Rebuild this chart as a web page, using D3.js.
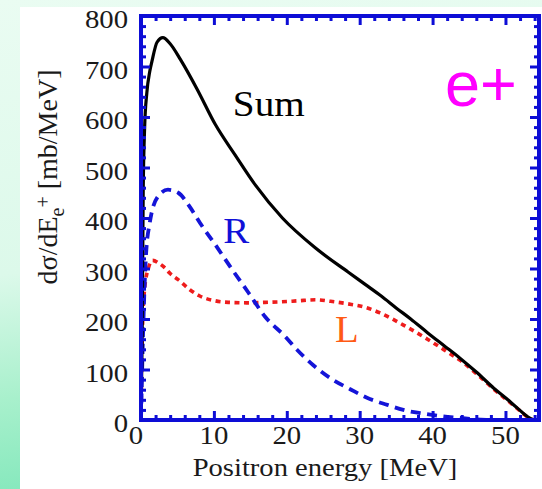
<!DOCTYPE html>
<html>
<head>
<meta charset="utf-8">
<script src="https://cdn.jsdelivr.net/npm/d3@7"></script>
<style>
  html, body { margin: 0; padding: 0; background: #fff; }
  svg { display: block; }
</style>
</head>
<body>
<svg id="chart" width="542" height="489"></svg>
<script>
// Positron energy spectrum: total and helicity components (E in MeV, dσ/dE in mb/MeV)
const sumCurve = [
  [0, 0], [0.15, 150], [0.3, 450], [0.5, 580], [0.8, 648], [1.2, 690], [1.5, 710],
  [2.2, 748], [3, 757], [4, 745], [5.4, 714], [7.7, 655], [10.2, 585], [12.9, 525],
  [15.7, 465], [19.4, 400], [23.9, 341], [28.4, 293], [30.8, 268], [33, 245],
  [35, 222], [37, 200], [39.3, 173], [41.5, 148], [43.8, 122], [46, 95],
  [48.4, 63], [50, 44], [51.6, 24], [53, 7], [53.8, 0]
];
const rCurve = [
  [0, 0], [0.3, 180], [0.7, 330], [1.2, 390], [2.3, 442], [3.7, 456], [5.1, 450],
  [6.7, 422], [8.1, 390], [10.2, 347], [12.5, 298], [14.7, 253], [17, 205],
  [19.8, 165], [21.4, 139], [23.6, 109], [26.4, 79], [28.7, 61], [31, 44],
  [33.8, 30], [36, 20], [38.6, 13], [41, 8], [43.8, 4], [46, 1], [48, 0]
];
const lCurve = [
  [0, 0], [0.2, 180], [0.5, 260], [1, 300], [1.6, 316], [2.5, 310], [3.3, 301],
  [4, 290], [5.1, 278], [6.7, 258], [8, 246], [10.2, 236], [12, 233], [14.7, 232],
  [17, 233], [19.2, 234], [21.5, 236], [23.9, 238], [26, 235], [28.4, 230],
  [30.8, 223], [32.8, 212], [36, 188], [39.3, 160], [42, 135], [43.8, 118],
  [46, 92], [48.4, 61], [50, 42], [51.6, 23], [53, 6], [53.8, 0]
];

const xMajor = [0, 10, 20, 30, 40, 50];
const yMajor = [0, 100, 200, 300, 400, 500, 600, 700, 800];
const xMinorStep = 2;
const yMinorStep = 20;

const xDomain = [0, 54.6];
const yDomain = [0, 800];

const curveLabels = [
  { text: "Sum", at: [12.6, 602], color: "#000000", size: 35, stretch: 1.12 },
  { text: "R",   at: [11.3, 350], color: "#1010d8", size: 36, stretch: 1.08 },
  { text: "L",   at: [26.6, 155], color: "#ff5a14", size: 37, stretch: 1.05 }
];

const svg = d3.select("#chart");
const W = 542, H = 489;

// Slide-style background: mint gradient with a white panel
const defs = svg.append("defs");
const bg = defs.append("linearGradient").attr("id", "bg")
  .attr("x1", 0).attr("y1", 0).attr("x2", 0.15).attr("y2", 1);
bg.append("stop").attr("offset", "0%").attr("stop-color", "#eafcf2");
bg.append("stop").attr("offset", "55%").attr("stop-color", "#dcf9ea");
bg.append("stop").attr("offset", "80%").attr("stop-color", "#a8f0cc");
bg.append("stop").attr("offset", "100%").attr("stop-color", "#84e8bc");
svg.append("rect").attr("width", W).attr("height", H).attr("fill", "url(#bg)");
svg.append("rect").attr("x", 20).attr("y", 7).attr("width", W - 20).attr("height", H - 7).attr("fill", "#ffffff");

const x = d3.scaleLinear().domain(xDomain).range([141, 539]);
const y = d3.scaleLinear().domain(yDomain).range([420, 16]);

const frameColor = "#0d0dd6";
const serif = "'Liberation Serif', 'Times New Roman', serif";

defs.append("clipPath").attr("id", "plotClip").append("rect")
  .attr("x", x(xDomain[0])).attr("y", y(yDomain[1]))
  .attr("width", x(xDomain[1]) - x(xDomain[0])).attr("height", y(yDomain[0]) - y(yDomain[1]));

// Curves
const line = d3.line().x(d => x(d[0])).y(d => y(d[1])).curve(d3.curveMonotoneX);
const plot = svg.append("g").attr("clip-path", "url(#plotClip)");
plot.append("path").datum(lCurve).attr("d", line)
  .attr("fill", "none").attr("stroke", "#ee1c1c").attr("stroke-width", 3.6)
  .attr("stroke-dasharray", "5,4.5");
plot.append("path").datum(rCurve).attr("d", line)
  .attr("fill", "none").attr("stroke", "#1414d8").attr("stroke-width", 3.8)
  .attr("stroke-dasharray", "10,6.5");
plot.append("path").datum(sumCurve).attr("d", line)
  .attr("fill", "none").attr("stroke", "#000000").attr("stroke-width", 3.2)
  .attr("stroke-linejoin", "round");

// Frame axes with inward ticks on all four sides
const xMinor = d3.range(xDomain[0], xDomain[1], xMinorStep).filter(v => v % 10 !== 0);
const yMinor = d3.range(yDomain[0], yDomain[1], yMinorStep).filter(v => v % 100 !== 0);
const tickW = 3;

function frameAxis(axisFn, scale, major, minor, transform) {
  const g = svg.append("g").attr("transform", transform);
  g.call(axisFn(scale).tickValues(minor).tickSize(-5).tickFormat(""));
  g.selectAll(".tick line").attr("stroke", frameColor).attr("stroke-width", tickW);
  const g2 = svg.append("g").attr("transform", transform);
  g2.call(axisFn(scale).tickValues(major).tickSize(-9).tickFormat(""));
  g2.selectAll(".tick line").attr("stroke", frameColor).attr("stroke-width", tickW);
  g.select(".domain").remove();
  g2.select(".domain").remove();
}
frameAxis(d3.axisBottom, x, xMajor, xMinor, `translate(0,${y(0)})`);
frameAxis(d3.axisTop, x, xMajor, xMinor, `translate(0,${y(800)})`);
frameAxis(d3.axisLeft, y, yMajor, yMinor, `translate(${x(0)},0)`);
frameAxis(d3.axisRight, y, yMajor, yMinor, `translate(${x(xDomain[1])},0)`);

svg.append("rect")
  .attr("x", x(xDomain[0])).attr("y", y(yDomain[1]))
  .attr("width", x(xDomain[1]) - x(xDomain[0])).attr("height", y(yDomain[0]) - y(yDomain[1]))
  .attr("fill", "none").attr("stroke", frameColor).attr("stroke-width", 4);

// Tick labels
svg.append("g").selectAll("text").data(xMajor).join("text")
  .attr("transform", (d, i) => `translate(${x(d) - (i === 0 ? 5 : 0)},444) scale(1.15,1)`)
  .attr("text-anchor", "middle")
  .attr("font-family", serif).attr("font-size", 25).attr("fill", "#1a1a1a")
  .text(d => d);
svg.append("g").selectAll("text").data(yMajor).join("text")
  .attr("transform", d => `translate(128,${y(d) + 12}) scale(1.15,1)`)
  .attr("text-anchor", "end")
  .attr("font-family", serif).attr("font-size", 25).attr("fill", "#1a1a1a")
  .text(d => d);

// Axis titles
svg.append("text")
  .attr("transform", "translate(325,476) scale(1.1,1)")
  .attr("text-anchor", "middle")
  .attr("font-family", serif).attr("font-size", 26).attr("fill", "#1a1a1a")
  .text("Positron energy [MeV]");

const yTitle = svg.append("text")
  .attr("transform", "translate(57,177) rotate(-90)")
  .attr("text-anchor", "middle")
  .attr("font-family", serif).attr("font-size", 28).attr("fill", "#1a1a1a");
yTitle.append("tspan").text("dσ/dE");
yTitle.append("tspan").attr("font-size", 20).attr("dy", 7).text("e");
yTitle.append("tspan").attr("font-size", 20).attr("dy", -14).text("+");
yTitle.append("tspan").attr("dy", 7).text(" [mb/MeV]");

// Curve labels
svg.append("g").selectAll("text").data(curveLabels).join("text")
  .attr("transform", d => `translate(${x(d.at[0])},${y(d.at[1])}) scale(${d.stretch},1)`)
  .attr("font-family", serif).attr("font-size", d => d.size).attr("fill", d => d.color)
  .text(d => d.text);

// Particle tag
svg.append("text")
  .attr("x", 445).attr("y", 106)
  .attr("font-family", "'Liberation Sans', Arial, sans-serif").attr("font-size", 63)
  .attr("fill", "#ff00ff")
  .text("e+");
</script>
</body>
</html>
